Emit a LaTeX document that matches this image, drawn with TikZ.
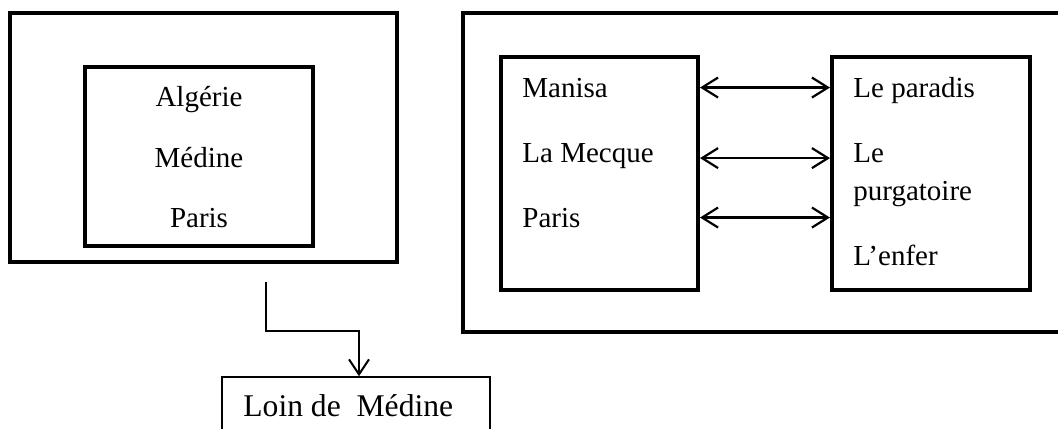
\documentclass[tikz,border=0pt]{standalone}
\usepackage{fontspec}
\setmainfont{Liberation Serif}
\usetikzlibrary{positioning,arrows.meta,calc}
\tikzset{frame/.style={draw,line width=2.2pt,inner sep=0pt,minimum width=#1},
  inbox/.style={draw,line width=2pt,inner sep=0pt},
  lbl/.style={inner sep=0pt,anchor=base west},
  clbl/.style={inner sep=0pt,anchor=base},
  lnk/.style={line width=1.1pt,{Straight Barb[length=8pt,width=10pt]}-{Straight Barb[length=8pt,width=10pt]}}}

\begin{document}
\begin{tikzpicture}[x=0.5pt,y=-0.5pt,font=\fontsize{14.5}{17}\selectfont]
    \useasboundingbox (0,0) rectangle (1058,428);
    % left block
    \node[frame=193.5pt,minimum height=124.5pt] (villes) at (203.5,137.5) {};
    \node[inbox,minimum width=114pt,minimum height=89.5pt] (lieux) at (199,156.5) {};
    \node[clbl] (alg) at (199,106) {Algérie};
    \node[clbl] (med) at (199,167) {Médine};
    \node[clbl] (par) at (199,227) {Paris};
    % right block
    \node[frame=308.5pt,minimum height=159.5pt] (monde) at (771.5,172.5) {};
    \node[inbox,minimum width=98.5pt,minimum height=116.5pt] (terre) at (599.5,173.5) {};
    \node[inbox,minimum width=99pt,minimum height=116.5pt] (audela) at (931,173.5) {};
    \node[lbl] (man) at (522,97) {Manisa};
    \node[lbl] (mec) at (522,162) {La Mecque};
    \node[lbl] (par2) at (522,227) {Paris};
    \node[lbl] (para) at (853,97) {Le paradis};
    \node[lbl] (purg) at (853,162) {Le};
    \node[lbl] (purg2) at (853,200) {purgatoire};
    \node[lbl] (enf) at (853,265) {L’enfer};
    \coordinate (row2) at ($(mec.west)+(0,2.5)$);
    \draw[lnk] (man.west -| terre.east) -- (man.west -| audela.west);
    \draw[lnk] (row2 -| terre.east) -- (row2 -| audela.west);
    \draw[lnk] (par2.west -| terre.east) -- (par2.west -| audela.west);
    % bottom
    \node[draw,line width=0.8pt,inner sep=0pt,minimum width=134pt,minimum height=36.5pt] (loin) at (356,413.5) {};
    \node[lbl,font=\fontsize{15.8}{18}\selectfont] (loint) at (243,416) {Loin de\ \ Médine};
    \coordinate (src) at (266,282);
    \coordinate (bend) at (359,331);
    \draw[line width=1pt,-{Straight Barb[length=7.5pt,width=10pt]}] (src) |- (bend) -- (bend |- loin.north);
\end{tikzpicture}
\end{document}
